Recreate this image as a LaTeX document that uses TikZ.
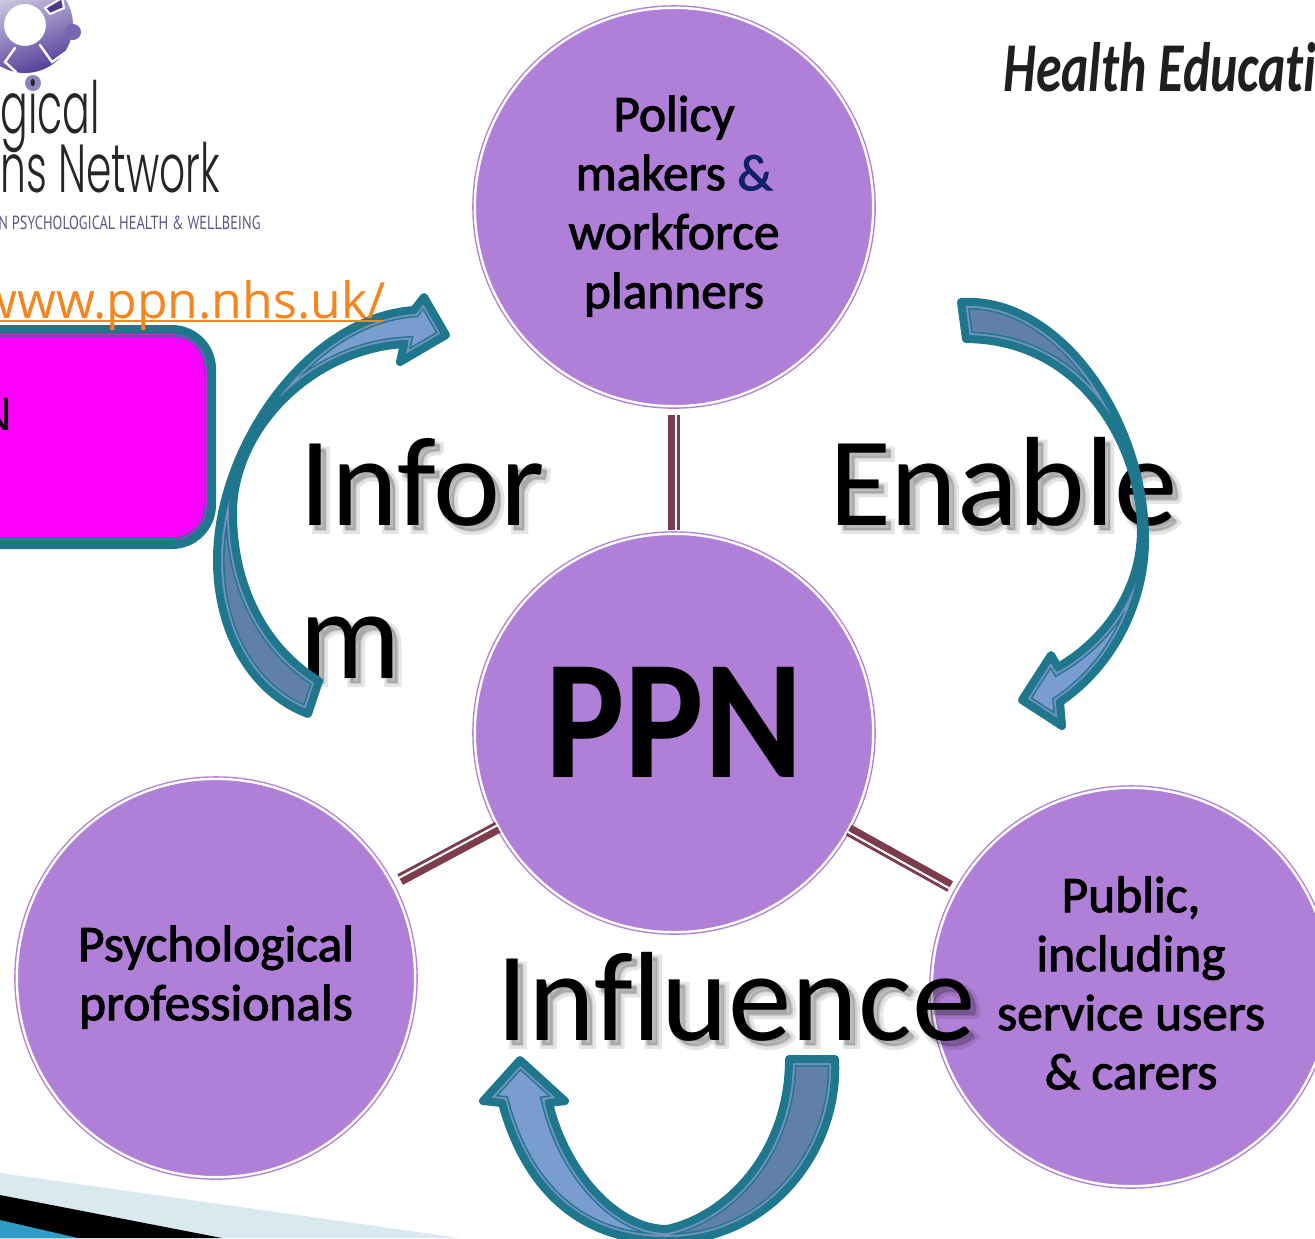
\documentclass[tikz,border=0pt]{standalone}
\usepackage{fontspec}
\setmainfont{Carlito}[Ligatures=NoCommon]
\newfontfamily\labfont{Carlito}[FakeBold=2,Ligatures=NoCommon]
\newfontfamily\fatfont{Carlito}[FakeBold=5,Ligatures=NoCommon]
\newfontfamily\urlfont{Open Sans}
\newfontfamily\logofont{Poppins Light}
\newfontfamily\tagfont{PT Sans}
\newfontfamily\boxfont{Liberation Sans}
\definecolor{cpurple}{HTML}{B07FD8}
\definecolor{cteal}{HTML}{1F778D}
\definecolor{chead}{HTML}{7A9DCF}
\definecolor{ctail}{HTML}{6180A8}
\definecolor{cline}{HTML}{7390BF}
\definecolor{clink}{HTML}{7D3C4E}
\definecolor{cnavy}{HTML}{12206B}
\definecolor{curl}{HTML}{F5851F}
\definecolor{cmag}{HTML}{FF00FF}
\definecolor{cmagline}{HTML}{E81FE8}
\definecolor{clogo}{HTML}{5F5585}
\definecolor{cdark}{HTML}{57409A}
\definecolor{cpale}{HTML}{D8E9F0}
\definecolor{cblue}{HTML}{2E9CC4}
\newcommand{\fs}[1]{\fontsize{#1pt}{#1pt}\selectfont}
\newcommand{\bigword}[4]{%
  \node[bigtext,opacity=.10,font=\fatfont\fs{63.5}] at (#2+6,#3+6) {#4};
  \node[bigtext,opacity=.18] at (#2+5,#3+5) {#4};
  \node[bigtext] (#1) at (#2,#3) {#4};
}
\newcommand{\compound}[5]{%
  \begin{scope}
    \clip #1;
    #2
    \draw[line width=7.5pt,draw=#3] #1;
    \draw[line width=6pt,draw=#4] #1;
    \draw[line width=#5,draw=#3] #1;
  \end{scope}
  \draw[line width=4pt,draw=#3,line join=round] #1;
}
\tikzset{
  hub/.style={circle,minimum size=199.2pt,inner sep=0pt,fill=cpurple,draw=cpurple,
    line width=.7pt,double=white,double distance=1.2pt,align=center,text=black},
  lab/.style={font=\labfont\fs{25.7},align=center},
  bigtext/.style={anchor=base west,font=\fs{63.5},align=left,inner sep=0pt,outer sep=0pt},
  linkband/.style={draw=clink,line width=6pt},
  linkgap/.style={draw=white,line width=1pt},
}
\newcommand{\PL}{(308,714) .. controls (250,692) and (217,630) .. (217,560) .. controls (217,450) and (305,318) .. (414,310) -- (424,297) -- (446,335) -- (400,362) -- (404,344) .. controls (310,350) and (233,430) .. (233,513) .. controls (233,590) and (268,650) .. (319,681) -- cycle}
\newcommand{\PR}{(961,302) .. controls (1060,296) and (1145,420) .. (1145,540) .. controls (1145,600) and (1115,665) .. (1060,702) -- (1062,726) -- (1022,700) -- (1051,655) -- (1058,667) .. controls (1105,640) and (1141,590) .. (1141,530) .. controls (1141,450) and (1085,340) .. (966,339) -- cycle}
\newcommand{\PB}{(835,1059) .. controls (840,1150) and (770,1241) .. (667,1241) .. controls (565,1241) and (520,1170) .. (502,1103) -- (483,1101) -- (520,1060) -- (565,1101) -- (549,1103) .. controls (565,1170) and (615,1229) .. (667,1229) .. controls (730,1215) and (789,1150) .. (789,1059) -- cycle}
\begin{document}
\begin{tikzpicture}[x=.5pt,y=-.5pt]
\useasboundingbox (0,0) rectangle (1315,1238);
\clip (0,0) rectangle (1315,1238);
\fill[white] (0,0) rectangle (1315,1238);

% slide decoration
\fill[cpale] (0,1173) -- (460,1238) -- (0,1238) -- cycle;
\fill[black] (0,1195) -- (222,1238) -- (0,1238) -- cycle;
\fill[cblue] (0,1220) -- (78,1238) -- (0,1238) -- cycle;

% logo
\shade[even odd rule,left color=cdark!15,right color=cdark,shading angle=20] (25,25) circle (48) (25,25) circle (21);
\fill[cdark!80] (73,32) circle (8);
\fill[cdark!65] (33,83) circle (8);
\draw[white,line width=1.2pt,line cap=round] (40,45) -- (52,62) -- (66,52);
\draw[white,line width=1.2pt,line cap=round] (15,48) -- (5,62) -- (16,72);
\draw[white,line width=1pt,fill=cdark!90!black] (45,8) -- (62,-2) -- (64,8) -- (50,14) -- cycle;
\node[anchor=base west,inner sep=0pt,font=\logofont\fs{36},text=black!85] (logoa) at (0,133) {\scalebox{.57}[1]{gical}};
\node[anchor=base west,inner sep=0pt,font=\logofont\fs{34},text=black!85] (logob) at (0,192) {\scalebox{.60}[1]{ns Network}};
\node[anchor=base east,inner sep=0pt,font=\tagfont\fs{9.5},text=clogo] (logoc) at (261,229) {\scalebox{.755}[1]{N PSYCHOLOGICAL HEALTH \& WELLBEING}};

% health education
\node[anchor=base west,inner sep=0pt,font=\bfseries\itshape\fs{35},text=black!88] (health) at (1003,91) {\scalebox{.74}[1]{Health Educati}};

% pink box
\compound{(-60,329) -- (172,329) arc[start angle=90,end angle=0,x radius=40,y radius=-40] -- (212,505) arc[start angle=0,end angle=-90,x radius=40,y radius=-40] -- (-60,545) -- cycle}{\fill[cmag] (-70,320) rectangle (220,555);}{cteal}{cmagline}{5pt}
\node[anchor=base east,inner sep=0pt,font=\boxfont\fs{23.5},text=black] (boxn) at (13,430) {N};

% hubs
\node[hub] (top) at (674,207) {};
\node[hub] (ppn) at (674,733) {};
\node[hub] (left) at (216,978) {};
\node[hub] (right) at (1131,987) {};

% connectors (thick-thin line)
\draw[linkband,shorten >=4pt,shorten <=1.5pt] (ppn) -- (top);
\draw[linkgap,shorten >=4pt,shorten <=1.5pt,transform canvas={xshift=1pt}] (ppn) -- (top);
\draw[linkband,shorten >=4.5pt] (ppn) -- (left);
\draw[linkgap,shorten >=4.5pt,transform canvas={xshift=-.47pt,yshift=.88pt}] (ppn) -- (left);
\draw[linkband,shorten >=3.5pt] (ppn) -- (right);
\draw[linkgap,shorten >=3.5pt,transform canvas={xshift=-.47pt,yshift=-.88pt}] (ppn) -- (right);

% hub texts
\node[lab] (toptext) at (674,206) {Policy\\[3.8pt]makers {\color{cnavy}\&}\\[3.8pt]workforce\\[3.8pt]planners};
\node[lab] (lefttext) at (216,977) {Psychological\\[3.8pt]professionals};
\node[lab] (righttext) at (1131,983) {Public,\\[3.8pt]including\\[3.8pt]service users\\[3.8pt]\& carers};
\node[font=\bfseries\fs{85},inner sep=0pt] (ppntext) at (674,722) {\scalebox{.88}[1]{PPN}};

% big words
\bigword{inform}{299}{678}{Infor\\[13pt]m}
\bigword{enable}{829}{525}{Enable}
\bigword{influence}{496}{1040}{Influence}

% arrows
\compound{\PL}{\fill[chead] (200,280) rectangle (460,490); \fill[ctail] (200,490) rectangle (460,730);}{cteal}{cline}{3.5pt}
\compound{\PR}{\fill[ctail] (950,285) rectangle (1160,520); \fill[chead] (950,520) rectangle (1160,740);}{cteal}{cline}{3.5pt}
\compound{\PB}{\fill[chead] (470,1050) rectangle (667,1245); \fill[ctail] (667,1050) rectangle (850,1245);}{cteal}{cline}{3.5pt}

% url
\node[anchor=base east,inner sep=0pt,font=\urlfont\fs{25},text=curl] (url) at (386,318) {www.ppn.nhs.uk/};
\draw[curl,line width=1pt] (0,321) -- (383,321);
\end{tikzpicture}
\end{document}
